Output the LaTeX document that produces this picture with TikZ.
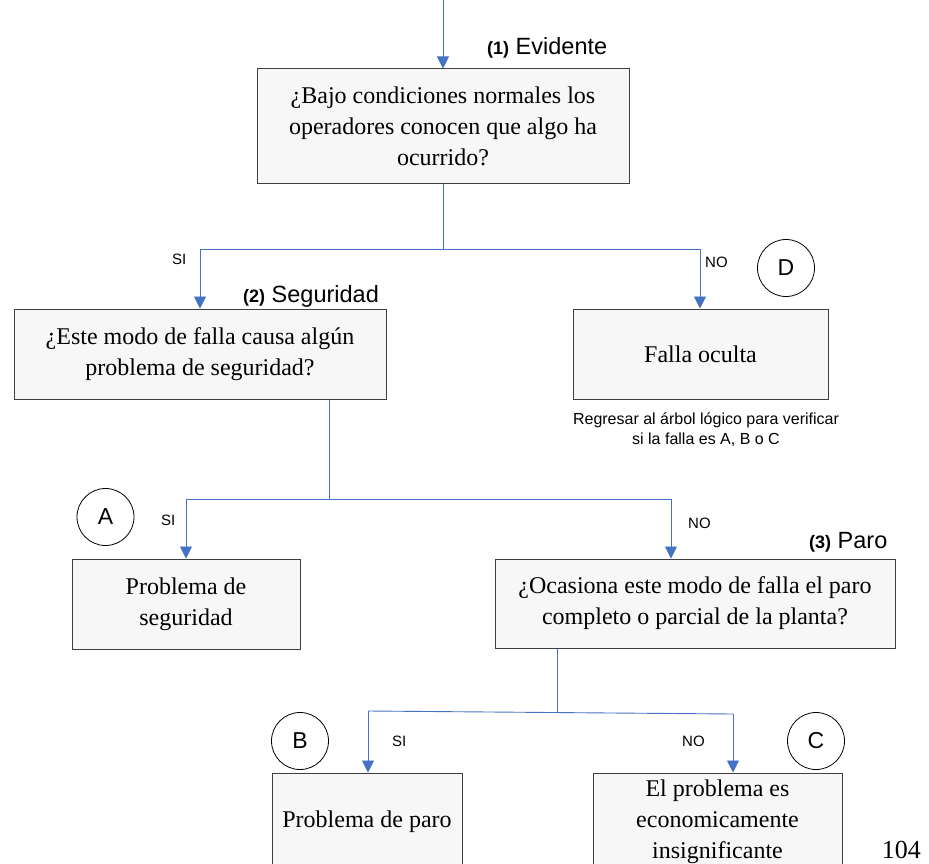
\documentclass[tikz,border=0pt]{standalone}
\usepackage{fontspec}
\setmainfont{Liberation Serif}
\newfontfamily\arial{Liberation Sans}
\usetikzlibrary{arrows.meta}
\definecolor{boxfill}{HTML}{F7F7F7}
\definecolor{boxline}{HTML}{3F3F3F}
\definecolor{flow}{HTML}{4472C4}
\tikzset{
  qbox/.style={draw=boxline, line width=1pt, fill=boxfill, align=center,
    font=\fontsize{24}{31}\selectfont, inner sep=0pt},
  flowline/.style={draw=flow, line width=0.9pt},
  flowarrow/.style={flowline, -{Triangle[width=12pt,length=12pt]}},
  lbl/.style={font=\arial\fontsize{15}{18}\selectfont, inner sep=0pt},
  head/.style={font=\arial\fontsize{23.5}{26}\selectfont, inner sep=0pt},
  note/.style={font=\arial\fontsize{16}{20}\selectfont, align=center, inner sep=0pt},
  letter/.style={draw=black, line width=0.8pt, circle, minimum size=57pt, inner sep=0pt,
    font=\arial\fontsize{23}{23}\selectfont},
}
\newcommand{\numtag}[1]{{\bfseries\fontsize{18}{18}\selectfont #1}}
\begin{document}
\begin{tikzpicture}[x=1pt,y=-1pt]
\useasboundingbox (0,0) rectangle (929,864);
\clip (0,0) rectangle (929,864);

% boxes
\node[qbox, minimum width=372pt, minimum height=114pt] (b1) at (443,126)
  {¿Bajo condiciones normales los\\operadores conocen que algo ha\\ocurrido?};
\node[qbox, minimum width=372pt, minimum height=90pt] (b2) at (200,354)
  {¿Este modo de falla causa algún\\problema de seguridad?};
\node[qbox, minimum width=255pt, minimum height=90pt] (b3) at (700.5,354)
  {Falla oculta};
\node[qbox, minimum width=228pt, minimum height=90pt] (b4) at (186,604)
  {Problema de\\seguridad};
\node[qbox, minimum width=400pt, minimum height=89pt] (b5) at (695,603.5)
  {¿Ocasiona este modo de falla el paro\\completo o parcial de la planta?};
\node[qbox, minimum width=190pt, minimum height=98pt] (b6) at (367,822)
  {Problema de paro};
\node[qbox, minimum width=249pt, minimum height=98pt] (b7) at (717.5,822)
  {El problema es\\economicamente\\insignificante};

% headings
\node[head, anchor=base west] (h1) at (487,55) {\numtag{(1)} Evidente};
\node[head, anchor=base west] (h2) at (243,302) {\numtag{(2)} Seguridad};
\node[head, anchor=base west] (h3) at (809,548) {\numtag{(3)} Paro};

% letters
\node[letter] (cD) at (786,268) {D};
\node[letter] (cA) at (105.5,517) {A};
\node[letter] (cB) at (300,741) {B};
\node[letter] (cC) at (816,741) {C};

% SI / NO labels
\node[lbl, anchor=base west] (s1) at (172,264) {SI};
\node[lbl, anchor=base west] (n1) at (705,267) {NO};
\node[lbl, anchor=base west] (s2) at (161,525) {SI};
\node[lbl, anchor=base west] (n2) at (688,528) {NO};
\node[lbl, anchor=base west] (s3) at (392,746) {SI};
\node[lbl, anchor=base west] (n3) at (682,746) {NO};

% note
\node[note] (nt) at (706,430) {Regresar al árbol lógico para verificar\\si la falla es A, B o C};

% page number
\node[font=\fontsize{26}{26}\selectfont, anchor=base east, inner sep=0pt] (pg) at (921,858) {104};

% connectors
\coordinate (top) at (443,0);
\draw[flowarrow] (top) -- (b1.north);

\coordinate (j1) at (443,249);
\coordinate (j1l) at (200,249);
\coordinate (j1r) at (700,249);
\draw[flowline] (b1.south) -- (j1);
\draw[flowline] (j1l) -- (j1r);
\draw[flowarrow] (j1l) -- (j1l |- b2.north);
\draw[flowarrow] (j1r) -- (j1r |- b3.north);

\coordinate (j2) at (329,499);
\coordinate (j2l) at (186,499);
\coordinate (j2r) at (671,499);
\draw[flowline] (j2 |- b2.south) -- (j2);
\draw[flowline] (j2l) -- (j2r);
\draw[flowarrow] (j2l) -- (j2l |- b4.north);
\draw[flowarrow] (j2r) -- (j2r |- b5.north);

\coordinate (j3) at (557,712.5);
\coordinate (j3l) at (368,711);
\coordinate (j3r) at (733,714);
\draw[flowline] (j3 |- b5.south) -- (j3);
\draw[flowline] (j3l) -- (j3r);
\draw[flowarrow] (j3l) -- (j3l |- b6.north);
\draw[flowarrow] (j3r) -- (j3r |- b7.north);
\end{tikzpicture}
\end{document}
